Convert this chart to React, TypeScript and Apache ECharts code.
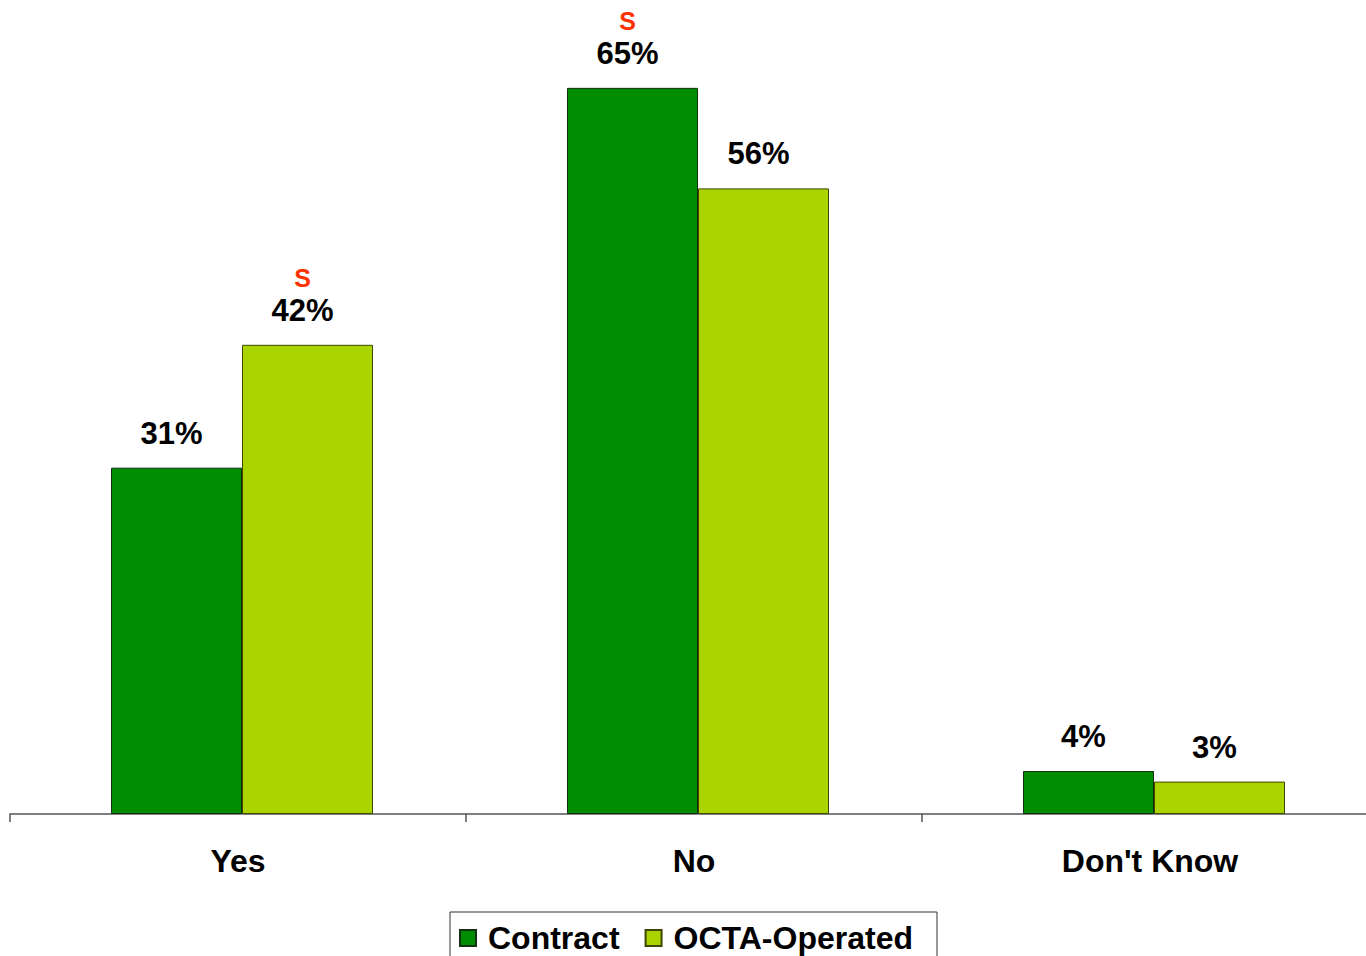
import React, { useEffect, useRef } from "react";
import * as echarts from "echarts";

const categories = ["Yes", "No", "Don't Know"];
const contractValues = [31, 65, 3.85];
const octaValues = [42, 56, 2.9];
const contractSig = [false, true, false];
const octaSig = [true, false, false];
const seriesNames = ["Contract", "OCTA-Operated"];

const FONT = "'Liberation Sans', Arial, sans-serif";

export default function App() {
  const ref = useRef<HTMLDivElement>(null);
  useEffect(() => {
    const chart = echarts.init(ref.current!, null, { renderer: "svg" });
    const makeLabel = (sig: boolean[]) => ({
      show: true,
      position: "top",
      distance: 19,
      offset: [-5, 0],
      formatter: (p: any) =>
        (sig[p.dataIndex] ? "{s|S}\n" : "") + "{v|" + Math.round(p.value) + "%}",
      rich: {
        s: { color: "#FF3300", fontSize: 25, fontWeight: "bold", fontFamily: FONT, lineHeight: 34, align: "center" },
        v: { color: "#000", fontSize: 31, fontWeight: "bold", fontFamily: FONT, lineHeight: 31, align: "center" },
      },
    });
    chart.setOption({
      animation: false,
      backgroundColor: "#fff",
      grid: [
        { left: 10, right: 4, top: 32, bottom: 142, containLabel: false },
        { left: 14, right: 0, top: 32, bottom: 142, containLabel: false },
      ],
      xAxis: [
        {
          type: "category",
          gridIndex: 0,
          data: categories,
          axisLine: { lineStyle: { color: "#555", width: 1.5 } },
          axisTick: { show: true, length: 8, lineStyle: { color: "#555", width: 1.5 } },
          axisLabel: { color: "#000", fontSize: 32, fontWeight: "bold", fontFamily: FONT, margin: 31 },
        },
        { type: "category", gridIndex: 1, data: categories, show: false },
      ],
      yAxis: [
        { type: "value", gridIndex: 0, min: 0, max: 70, show: false, splitLine: { show: false } },
        { type: "value", gridIndex: 1, min: 0, max: 70, show: false, splitLine: { show: false } },
      ],
      legend: {
        left: 450,
        top: 912,
        orient: "horizontal",
        borderColor: "#333",
        borderWidth: 1,
        padding: [10, 24, 12, 9],
        itemWidth: 16,
        itemHeight: 16,
        itemGap: 25,
        icon: "rect",
        textStyle: { color: "#000", fontSize: 32, fontWeight: "bold", fontFamily: FONT, padding: [0, 0, 0, 7] },
        data: seriesNames,
      },
      series: [
        {
          name: seriesNames[0],
          type: "bar",
          xAxisIndex: 1,
          yAxisIndex: 1,
          data: contractValues,
          barWidth: 131,
          barGap: "0%",
          itemStyle: { color: "#008C00", borderColor: "#143014", borderWidth: 1 },
          label: makeLabel(contractSig),
        },
        {
          name: seriesNames[1],
          type: "bar",
          xAxisIndex: 1,
          yAxisIndex: 1,
          data: octaValues,
          barWidth: 131,
          barGap: "0%",
          itemStyle: { color: "#AAD400", borderColor: "#3f4600", borderWidth: 1 },
          label: makeLabel(octaSig),
        },
      ],
    });
    return () => chart.dispose();
  }, []);
  return (
    <div style={{ position: "fixed", left: 0, top: 0, width: 1366, height: 956, overflow: "hidden", background: "#fff" }}>
      <div ref={ref} style={{ width: 1382, height: 956 }} />
    </div>
  );
}
